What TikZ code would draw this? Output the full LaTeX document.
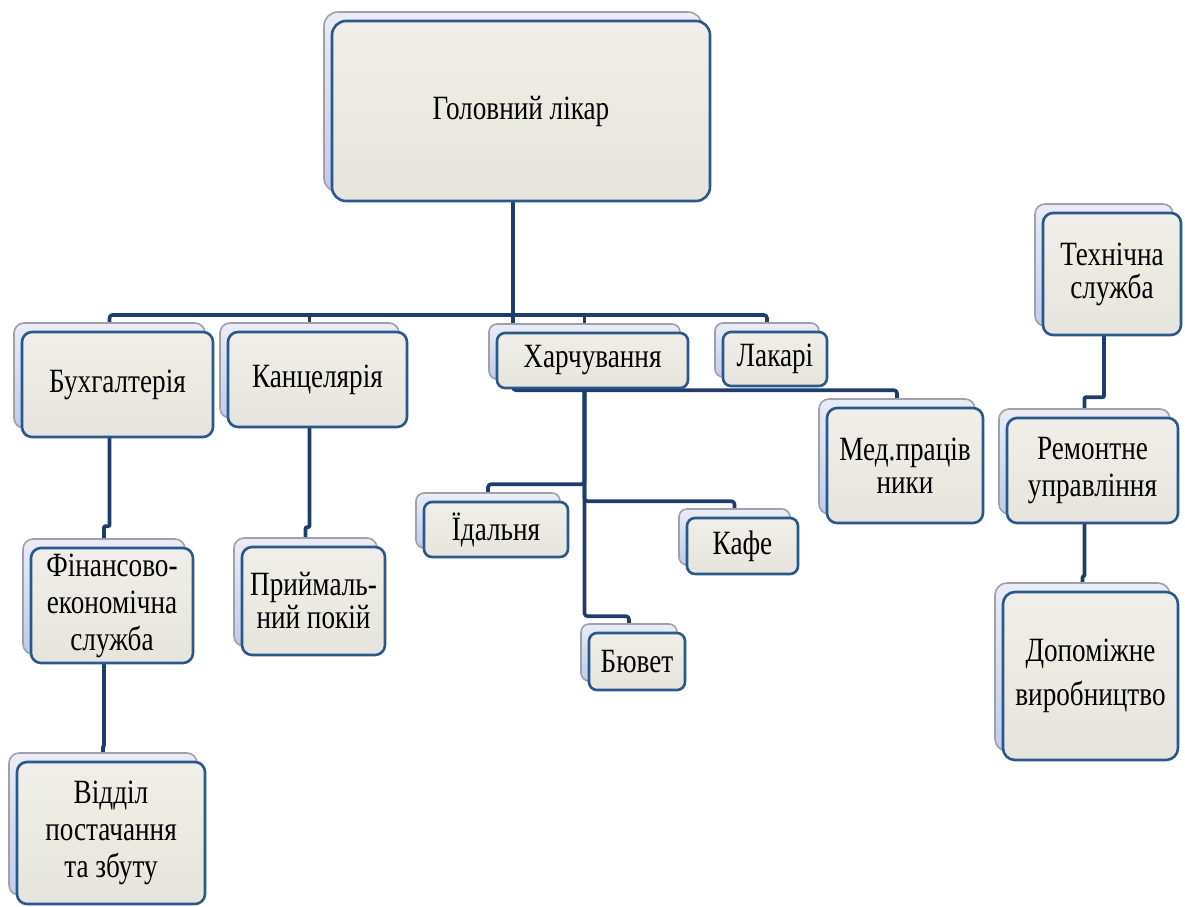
\documentclass[tikz,border=0pt]{standalone}
\usepackage{fontspec}
\setmainfont[FakeStretch=0.8]{Liberation Serif}
\usetikzlibrary{calc}

\definecolor{linkblue}{RGB}{31,61,108}
\definecolor{frameblue}{RGB}{43,88,140}
\definecolor{paperTop}{RGB}{239,238,232}
\definecolor{paperBot}{RGB}{230,229,221}
\definecolor{backTop}{RGB}{234,237,246}
\definecolor{backBot}{RGB}{192,203,235}
\definecolor{backgray}{RGB}{160,160,166}

\pgfdeclarelayer{links}
\pgfsetlayers{links,main}

\tikzset{
  card/.style={draw=frameblue, line width=2.6pt, rounded corners=10pt,
    top color=paperTop, bottom color=paperBot, inner sep=0pt,
    align=center, text=black, font=\fontsize{34}{35}\selectfont},
  cardback/.style={draw=backgray, line width=1.6pt, rounded corners=10pt,
    top color=backTop, bottom color=backBot, inner sep=0pt},
  link/.style={draw=linkblue, line width=3.6pt, rounded corners=3pt, line join=round},
  jog/.style={link, rounded corners=1pt},
}

% \orgcard[extra style]{name}{centre x}{centre y}{width}{height}
% draws the offset back plate (name-b) and the front card (name) holding \orgtext
\newcommand\orgcard[6][]{%
  \node[cardback, minimum width=#5pt, minimum height=#6pt, #1] (#2-b) at (#3-8,#4-9) {};
  \node[card, minimum width=#5pt, minimum height=#6pt, #1] (#2) at (#3,#4) {\orgtext};
}

\begin{document}
\begin{tikzpicture}[x=1pt,y=-1pt]
\useasboundingbox (0,0) rectangle (1185,906);

\def\orgtext{Головний лікар}
\orgcard[rounded corners=14pt]{head}{521}{111}{378}{180}
\def\orgtext{Бухгалтерія}
\orgcard{buh}{117.5}{384.5}{191}{105}
\def\orgtext{Канцелярія}
\orgcard{kanc}{317.5}{379.5}{179}{95}
\def\orgtext{Харчування}
\orgcard[rounded corners=8pt]{harch}{592.5}{360.5}{191}{55}
\def\orgtext{Лакарі}
\orgcard[rounded corners=8pt]{lak}{775}{359}{104}{54}
\def\orgtext{Мед.праців\\ники}
\orgcard[font=\fontsize{34}{33}\selectfont]{med}{905}{465.5}{156}{115}
\def\orgtext{Фінансово-\\економічна\\служба}
\orgcard[font=\fontsize{34}{37}\selectfont]{fin}{112}{605.5}{162}{115}
\def\orgtext{Приймаль-\\ний покій}
\orgcard[font=\fontsize{34}{33}\selectfont]{prij}{313.5}{601}{143}{108}
\def\orgtext{Відділ\\постачання\\та збуту}
\orgcard[font=\fontsize{34}{37}\selectfont]{vid}{111}{833}{188}{142}
\def\orgtext{Їдальня}
\orgcard[rounded corners=8pt]{idal}{496}{529.5}{144}{55}
\def\orgtext{Кафе}
\orgcard[rounded corners=8pt]{kafe}{742.5}{546}{111}{56}
\def\orgtext{Бювет}
\orgcard[rounded corners=8pt]{buvet}{637}{661.5}{96}{57}
\def\orgtext{Технічна\\служба}
\orgcard[font=\fontsize{34}{33}\selectfont]{tech}{1112}{274}{138}{122}
\def\orgtext{Ремонтне\\управління}
\orgcard[font=\fontsize{34}{37}\selectfont]{rem}{1092.5}{470.5}{171}{105}
\def\orgtext{Допоміжне\\виробництво}
\orgcard[font=\fontsize{34}{44}\selectfont, rounded corners=12pt]{dop}{1090.5}{676}{175}{168}

\coordinate (bus1) at (513,315);

\begin{pgfonlayer}{links}
  % top level
  \draw[link] (buh-b.north) |- (bus1) -| (lak-b.north);
  \draw[link] (head-b.south) |- ($(med-b.north)+(0,-8)$) -- (med-b.north);
  \draw[link] (kanc-b.north) -- (kanc-b.north |- bus1);
  \draw[link] (harch-b.north) -- (harch-b.north |- bus1);
  % catering branch
  \draw[link] (harch-b.south) |- ($(idal-b.north)+(0,-8)$) -- (idal-b.north);
  \draw[link] (harch-b.south) |- ($(kafe-b.north)+(0,-7)$) -- (kafe-b.north);
  \draw[link] (harch-b.south) |- ($(buvet-b.north)+(0,-7)$) -- (buvet-b.north);
  % left columns
  \draw[jog] (buh-b.south) |- ($(fin-b.north)+(0,-12)$) -- (fin-b.north);
  \draw[jog] (fin-b.south) |- ($(vid-b.north)+(0,-6)$) -- (vid-b.north);
  \draw[jog] (kanc-b.south) |- ($(prij-b.north)+(0,-10)$) -- (prij-b.north);
  % technical column
  \draw[jog] (tech-b.south) |- ($(rem-b.north)+(0,-11)$) -- (rem-b.north);
  \draw[jog] (rem-b.south) |- ($(dop-b.north)+(0,-6)$) -- (dop-b.north);
\end{pgfonlayer}
\end{tikzpicture}
\end{document}
